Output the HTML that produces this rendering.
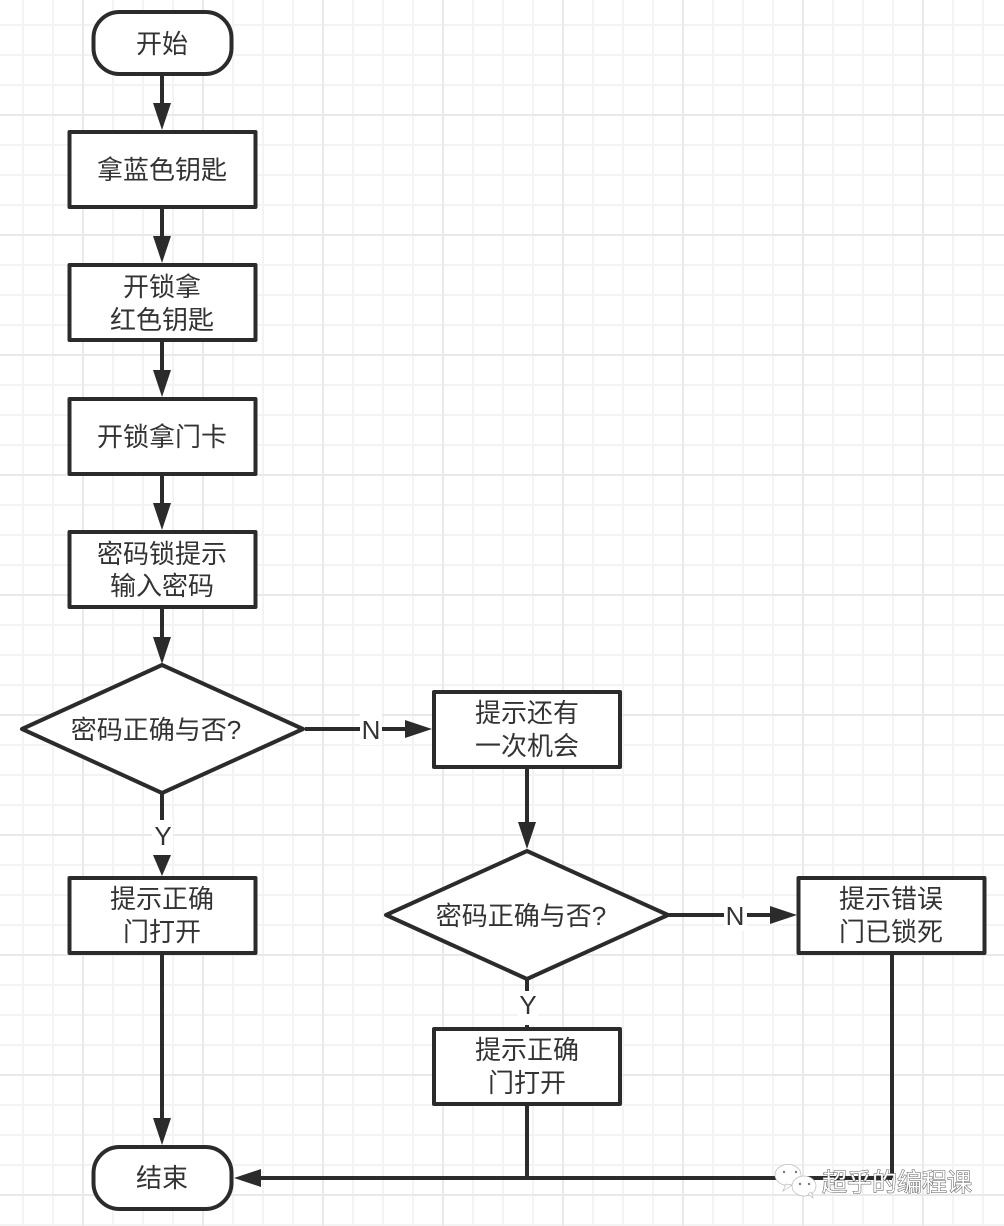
<!DOCTYPE html>
<html>
<head>
<meta charset="utf-8">
<style>
html,body{margin:0;padding:0;background:#fff;width:1004px;height:1226px;overflow:hidden}
svg{display:block}
text{font-family:"Liberation Sans","Noto Sans CJK SC",sans-serif;font-size:26px;fill:#333;text-anchor:middle}
</style>
</head>
<body>
<svg width="1004" height="1226" viewBox="0 0 1004 1226" xmlns="http://www.w3.org/2000/svg">
<defs>
<pattern id="g1" width="30" height="30" patternUnits="userSpaceOnUse" x="8" y="10">
<path d="M15 0V30M0 15H30" stroke="#f3f3f3" stroke-width="2" fill="none"/>
</pattern>
<pattern id="g2" width="120" height="120" patternUnits="userSpaceOnUse" x="23" y="55">
<path d="M60 0V120M0 60H120" stroke="#e9e9e9" stroke-width="2" fill="none"/>
</pattern>
</defs>
<rect width="1004" height="1226" fill="#fff"/>
<rect width="1004" height="1226" fill="url(#g1)"/>
<rect width="1004" height="1226" fill="url(#g2)"/>

<g stroke="#2b2b2b" stroke-width="4" fill="none">
<path d="M162 75V106M162 207V238M162 341V372M162 474V505M162 607V640M162 793V855M162 953V1120"/>
<path d="M527 767V826M527 979V1029"/>
<path d="M527 1104V1178M892 953V1178M892 1178H258"/>
<path d="M305 729H410M669 915H775"/>
</g>

<g fill="#2b2b2b">
<path d="M153 103H171L162 130Z"/>
<path d="M153 236H171L162 263Z"/>
<path d="M153 370H171L162 397Z"/>
<path d="M153 503H171L162 530Z"/>
<path d="M153 637H171L162 664Z"/>
<path d="M153 855H171L162 876Z"/>
<path d="M153 1118H171L162 1145Z"/>
<path d="M518 822H536L527 849Z"/>
<path d="M405 720V738L432 729Z"/>
<path d="M770 906V924L797 915Z"/>
<path d="M261 1169V1187L234 1178Z"/>
</g>

<rect x="360" y="713" width="22" height="32" fill="#fff"/>
<rect x="724" y="899" width="23" height="32" fill="#fff"/>
<rect x="152" y="820" width="21" height="35" fill="#fff"/>
<rect x="518" y="991" width="20" height="34" fill="#fff"/>

<g fill="#fff" stroke="#2b2b2b" stroke-width="4" stroke-linejoin="round">
<rect x="93.5" y="12" width="138" height="62" rx="26"/>
<rect x="69.500" y="132" width="186" height="75"/>
<rect x="69.500" y="265" width="186" height="75"/>
<rect x="69.500" y="399" width="186" height="75"/>
<rect x="69.500" y="532" width="186" height="75"/>
<path d="M22 729L162 665L303 729L162 793Z"/>
<rect x="69.500" y="878" width="186" height="75"/>
<rect x="434" y="692" width="186" height="75"/>
<path d="M386 915L527 851L668 915L527 979Z"/>
<rect x="798.500" y="878" width="186" height="75"/>
<rect x="434" y="1029" width="186" height="75"/>
<rect x="93.5" y="1147" width="138" height="62" rx="26"/>
</g>

<text x="162" y="53">开始</text>
<text x="162" y="179">拿蓝色钥匙</text>
<text x="162" y="296">开锁拿</text>
<text x="162" y="329">红色钥匙</text>
<text x="162" y="446">开锁拿门卡</text>
<text x="162" y="563">密码锁提示</text>
<text x="162" y="595">输入密码</text>
<text x="156" y="739">密码正确与否?</text>
<text x="371" y="739">N</text>
<text x="527" y="722">提示还有</text>
<text x="527" y="755">一次机会</text>
<text x="163" y="845">Y</text>
<text x="162" y="908">提示正确</text>
<text x="162" y="941">门打开</text>
<text x="521" y="925">密码正确与否?</text>
<text x="735" y="925">N</text>
<text x="891" y="908">提示错误</text>
<text x="891" y="941">门已锁死</text>
<text x="528" y="1014">Y</text>
<text x="527" y="1059">提示正确</text>
<text x="527" y="1092">门打开</text>
<text x="162" y="1187">结束</text>

<g fill="#fff" stroke="#bbb" stroke-width="0.7">
<ellipse cx="788" cy="1175" rx="13" ry="10.500"/>
<path d="M786 1184L783 1191L792 1185Z"/>
<ellipse cx="804" cy="1186" rx="12" ry="10"/>
<path d="M808 1194L813 1198L811 1192Z"/>
</g>
<g fill="#777">
<circle cx="784" cy="1172" r="1.200"/><circle cx="796" cy="1172" r="1.200"/>
<circle cx="800" cy="1184" r="1.200"/><circle cx="809" cy="1184" r="1.200"/>
</g>
<text x="897" y="1191" style="font-size:25px;fill:#fff;stroke:#555;stroke-width:1;paint-order:stroke">超乎的编程课</text>
</svg>
</body>
</html>
